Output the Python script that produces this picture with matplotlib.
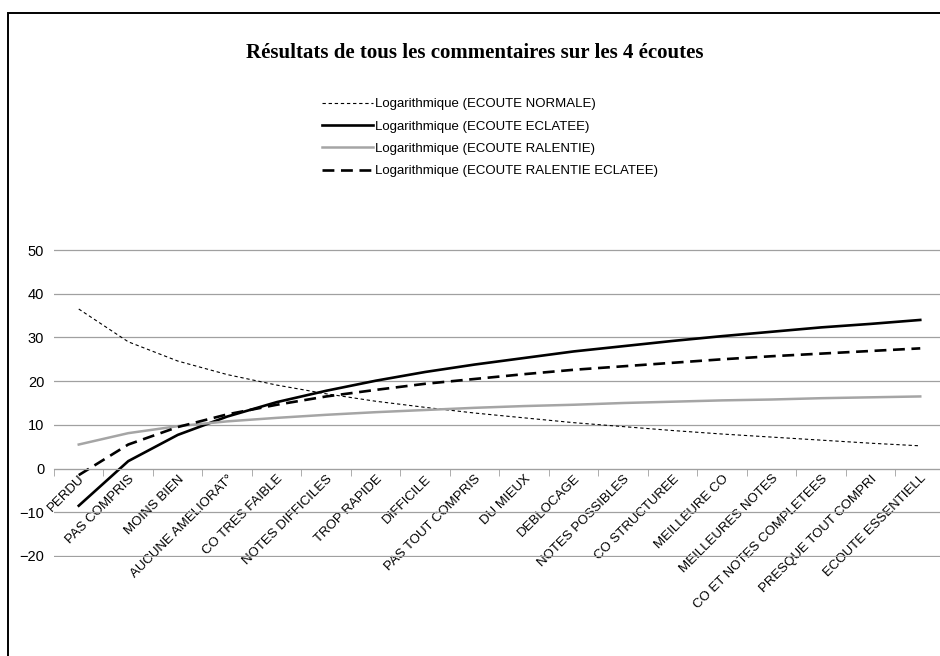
import numpy as np
import matplotlib.pyplot as plt
from matplotlib.patches import Rectangle

categories = ["PERDU", "PAS COMPRIS", "MOINS BIEN", "AUCUNE AMELIORAT°",
              "CO TRES FAIBLE", "NOTES DIFFICILES", "TROP RAPIDE", "DIFFICILE",
              "PAS TOUT COMPRIS", "DU MIEUX", "DEBLOCAGE", "NOTES POSSIBLES",
              "CO STRUCTUREE", "MEILLEURE CO", "MEILLEURES NOTES",
              "CO ET NOTES COMPLETEES", "PRESQUE TOUT COMPRI", "ECOUTE ESSENTIELL"]

# values at each category
ecoute_normale = [36.5, 29.0, 24.6, 21.5, 19.1, 17.1, 15.4, 14.0, 12.7,
                  11.6, 10.5, 9.6, 8.7, 7.9, 7.2, 6.5, 5.8, 5.2]
ecoute_eclatee = [-8.5, 1.7, 7.7, 11.9, 15.2, 17.8, 20.1, 22.1, 23.8,
                  25.3, 26.8, 28.0, 29.2, 30.3, 31.3, 32.3, 33.1, 34.0]
ecoute_ralentie = [5.5, 8.1, 9.7, 10.8, 11.6, 12.3, 12.9, 13.4, 13.9,
                   14.3, 14.6, 15.0, 15.3, 15.6, 15.8, 16.1, 16.3, 16.5]
ecoute_ralentie_eclatee = [-1.5, 5.5, 9.5, 12.4, 14.6, 16.5, 18.0, 19.4, 20.5,
                           21.6, 22.6, 23.4, 24.2, 25.0, 25.7, 26.3, 26.9, 27.5]

plt.rcParams['font.family'] = ['Liberation Sans', 'DejaVu Sans']

fig = plt.figure(figsize=(9.4, 6.56), dpi=100)
# plot area: y=50 at 250 px, y=-20 at 556 px (a little slack so edge gridlines show)
ax = fig.add_axes([54/940, 1 - 557.3/656, 891/940, 308.6/656])

x = np.arange(1, len(categories) + 1)

ax.plot(x, ecoute_normale, color='black', lw=0.8, linestyle=(0, (3, 2.5)),
        label='Logarithmique (ECOUTE NORMALE)')
ax.plot(x, ecoute_eclatee, color='black', lw=1.9,
        label='Logarithmique (ECOUTE ECLATEE)')
ax.plot(x, ecoute_ralentie, color='#a5a5a5', lw=1.8,
        label='Logarithmique (ECOUTE RALENTIE)')
ax.plot(x, ecoute_ralentie_eclatee, color='black', lw=1.9, linestyle=(0, (4.5, 2.5)),
        label='Logarithmique (ECOUTE RALENTIE ECLATEE)')

ax.set_xlim(0.5, len(categories) + 0.5)
ax.set_ylim(-20.3, 50.3)
ax.set_yticks(range(-20, 51, 10))
ax.yaxis.grid(True, color='#a0a0a0', lw=0.9)
ax.set_axisbelow(True)
ax.tick_params(axis='y', length=0, pad=7, labelsize=10.5)

for side in ['left', 'right', 'top']:
    ax.spines[side].set_visible(False)
ax.spines['bottom'].set_position(('data', 0))
ax.spines['bottom'].set_color('#a0a0a0')

ax.set_xticks(x)
ax.set_xticklabels(categories, rotation=45, ha='right', va='top',
                   rotation_mode='anchor', fontsize=9.5)
ax.set_xticks(np.arange(0.5, len(categories) + 1), minor=True)
ax.tick_params(axis='x', which='major', length=0, pad=3)
ax.tick_params(axis='x', which='minor', length=5, color='#a0a0a0')

fig.text(475/940, 1 - 53/656, "Résultats de tous les commentaires sur les 4 écoutes",
         ha='center', va='center', fontsize=15, fontweight='bold',
         family='Liberation Serif')

fig.legend(loc='upper left', bbox_to_anchor=(322/940, 1 - 98/656), frameon=False,
           fontsize=9.5, handlelength=3.9, handletextpad=0.15, labelspacing=0.77,
           borderpad=0, borderaxespad=0)

# outer frame of the chart
fig.patches.append(Rectangle((8/940, -0.05), 1.1, 1 - 13/656 + 0.05,
                             transform=fig.transFigure, fill=False,
                             edgecolor='black', lw=1.4))

fig.savefig('out.png', dpi=100)
